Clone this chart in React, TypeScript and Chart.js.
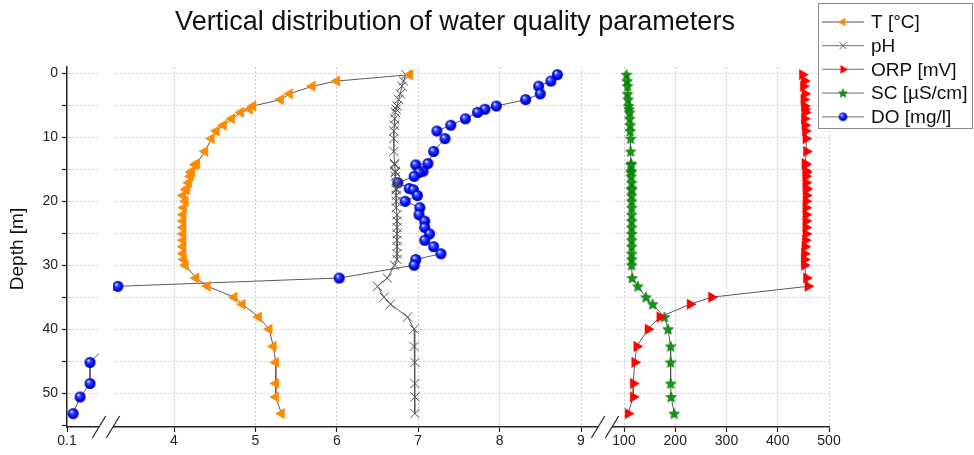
import React, { useEffect, useRef } from 'react';
import { Chart, registerables } from 'chart.js';
Chart.register(...registerables);

// ---------------- data ----------------
const depths = [0.2, 1.2, 2.0, 3.2, 4.1, 5.1, 5.6, 6.1, 7.1, 8.1, 9.0, 10.2, 12.2, 14.1, 14.3, 15.3, 15.5, 16.1, 17.1, 18.0, 18.2, 19.1, 20.0, 21.0, 22.1, 23.1, 24.1, 25.1, 26.1, 27.1, 28.2, 29.1, 30.0, 32.0, 33.3, 35.0, 36.1, 38.1, 40.0, 42.7, 45.2, 48.5, 50.6, 53.2];
const tempC = [6.90, 6.00, 5.70, 5.42, 5.31, 4.97, 4.93, 4.82, 4.71, 4.61, 4.52, 4.46, 4.38, 4.28, 4.26, 4.22, 4.21, 4.20, 4.18, 4.16, 4.15, 4.11, 4.14, 4.12, 4.11, 4.11, 4.11, 4.11, 4.11, 4.11, 4.11, 4.12, 4.14, 4.27, 4.41, 4.74, 4.84, 5.04, 5.17, 5.22, 5.25, 5.25, 5.25, 5.32];
const ph = [6.85, 6.82, 6.80, 6.78, 6.76, 6.74, 6.73, 6.72, 6.71, 6.71, 6.70, 6.70, 6.70, 6.71, 6.71, 6.72, 6.72, 6.72, 6.73, 6.73, 6.73, 6.73, 6.73, 6.73, 6.74, 6.74, 6.74, 6.74, 6.74, 6.74, 6.74, 6.74, 6.71, 6.62, 6.50, 6.58, 6.66, 6.87, 6.95, 6.95, 6.96, 6.96, 6.96, 6.96];
const orp = [448, 452, 450, 453, 451, 452, 453, 454, 452, 453, 454, 455, 456, 453, 454, 455, 455, 455, 455, 456, 455, 456, 455, 455, 455, 455, 455, 455, 454, 453, 452, 452, 452, 456, 459, 271, 229, 170, 147, 125, 121, 118, 118, 108];
const sc = [105, 106, 107, 107, 108, 109, 110, 111, 111, 112, 112, 113, 113, 114, 114, 114, 114, 114, 115, 115, 115, 115, 115, 115, 115, 115, 115, 115, 115, 115, 115, 115, 115, 116, 127, 143, 156, 179, 186, 191, 191, 191, 192, 198];
const doMg = [8.71, 8.63, 8.48, 8.50, 8.32, 7.96, 7.82, 7.73, 7.58, 7.40, 7.23, 7.33, 7.19, 7.12, 6.97, 7.06, 7.01, 6.95, 6.75, 6.89, 6.94, 6.99, 6.84, 7.02, 7.01, 7.08, 7.08, 7.14, 7.08, 7.19, 7.28, 6.97, 6.95, 6.03, 3.31, 1.8, 1.75, 1.7, 1.72, 1.8, 0.172, 0.172, 0.141, 0.119];

const xTickValues = [0.1, 4, 5, 6, 7, 8, 9, 100, 200, 300, 400, 500];
const xTickLabels = ['0.1', '4', '5', '6', '7', '8', '9', '100', '200', '300', '400', '500'];
const yTickValues = [0, 5, 10, 15, 20, 25, 30, 35, 40, 45, 50, 55];
const yTickLabels = ['0', '', '10', '', '20', '', '30', '', '40', '', '50', ''];

const seriesNames = ['T [°C]', 'pH', 'ORP [mV]', 'SC [µS/cm]', 'DO [mg/l]'];

// ---------------- broken axis transform ----------------
// three segments: [0.1, 0.2] | break | [3.25, 9.21] | break | [76.6, 500]
const LOW = [0.1, 0.2];
const MID = [3.25, 9.21];
const HIGH = [76.6, 500];
function toAxis(v: number): number {
  if (v <= LOW[1]) return 67 + (v - 0.1) * 320;
  if (v < MID[0]) return 99 + ((v - LOW[1]) / (MID[0] - LOW[1])) * 14;
  if (v <= MID[1]) return 174 + (v - 4) * 81.4;
  if (v < HIGH[0]) return 598 + ((v - MID[1]) / (HIGH[0] - MID[1])) * 14;
  return 624 + (v - 100) * 0.5125;
}
const breaks: [number, number][] = [
  [toAxis(LOW[1]), toAxis(MID[0])],
  [toAxis(MID[1]), toAxis(HIGH[0])],
];

const FONT = '"Liberation Sans", Arial, Helvetica, sans-serif';

function makeSphere(r: number): HTMLCanvasElement {
  const s = Math.ceil(r * 2 + 2);
  const c = document.createElement('canvas');
  c.width = s; c.height = s;
  const g = c.getContext('2d')!;
  const cx = s / 2, cy = s / 2;
  const grad = g.createRadialGradient(cx - r * 0.35, cy - r * 0.4, r * 0.05, cx, cy, r);
  grad.addColorStop(0, '#e8eeff');
  grad.addColorStop(0.3, '#3050ff');
  grad.addColorStop(0.75, '#0000ee');
  grad.addColorStop(1, '#0000a0');
  g.fillStyle = grad;
  g.beginPath(); g.arc(cx, cy, r, 0, Math.PI * 2); g.fill();
  return c;
}
function makeStar(R: number): HTMLCanvasElement {
  const s = Math.ceil(R * 2 + 2);
  const c = document.createElement('canvas');
  c.width = s; c.height = s;
  const g = c.getContext('2d')!;
  const cx = s / 2, cy = s / 2 + R * 0.08;
  g.beginPath();
  for (let i = 0; i < 10; i++) {
    const rr = i % 2 === 0 ? R : R * 0.45;
    const a = -Math.PI / 2 + (i * Math.PI) / 5;
    const x = cx + Math.cos(a) * rr, y = cy + Math.sin(a) * rr;
    if (i === 0) g.moveTo(x, y); else g.lineTo(x, y);
  }
  g.closePath();
  g.fillStyle = '#0a9a0a';
  g.fill();
  g.strokeStyle = '#056005';
  g.lineWidth = 0.6;
  g.stroke();
  return c;
}

function drawTri(ctx: CanvasRenderingContext2D, x: number, y: number, r: number, rot: number, color: string) {
  let rad = (rot * Math.PI) / 180;
  ctx.beginPath();
  for (let i = 0; i < 3; i++) {
    const px = x + Math.sin(rad) * r, py = y - Math.cos(rad) * r;
    if (i === 0) ctx.moveTo(px, py); else ctx.lineTo(px, py);
    rad += (2 * Math.PI) / 3;
  }
  ctx.closePath();
  ctx.fillStyle = color;
  ctx.fill();
}

export default function App() {
  const ref = useRef<HTMLCanvasElement>(null);
  useEffect(() => {
    if (!ref.current) return;
    const sphere = makeSphere(5.5);
    const star = makeStar(5.6);
    const sphereSmall = makeSphere(4.3);
    const starSmall = makeStar(4.6);
    const pts = (vals: number[]) => depths.map((d, i) => ({ x: toAxis(vals[i]), y: d }));
    const lineColor = '#5a5a5a';
    const base = { borderColor: lineColor, borderWidth: 1, tension: 0, showLine: true, fill: false };

    const decor = {
      id: 'decor',
      afterDatasetsDraw(chart: any) {
        const { ctx, chartArea, scales } = chart;
        const xs = scales.x;
        ctx.save();
        for (const [a, b] of breaks) {
          const x1 = xs.getPixelForValue(a), x2 = xs.getPixelForValue(b);
          ctx.fillStyle = '#ffffff';
          ctx.fillRect(x1, chartArea.top - 3, x2 - x1, chartArea.bottom - chartArea.top + 6);
          ctx.strokeStyle = '#222';
          ctx.lineWidth = 1.2;
          for (const cx of [x1, x2]) {
            ctx.beginPath();
            ctx.moveTo(cx - 6.7, chartArea.bottom + 11);
            ctx.lineTo(cx + 6.7, chartArea.bottom - 11);
            ctx.stroke();
          }
        }
        ctx.restore();
      },
      afterDraw(chart: any) {
        const { ctx, chartArea } = chart;
        ctx.save();
        // title
        ctx.fillStyle = '#111';
        ctx.font = `27px ${FONT}`;
        ctx.textAlign = 'center';
        ctx.textBaseline = 'middle';
        ctx.fillText('Vertical distribution of water quality parameters', 455, 23);
        // y title
        ctx.save();
        ctx.translate(18, (chartArea.top + chartArea.bottom) / 2 + 2);
        ctx.rotate(-Math.PI / 2);
        ctx.font = `19px ${FONT}`;
        ctx.fillText('Depth [m]', 0, 0);
        ctx.restore();
        // legend
        ctx.fillStyle = '#fff';
        ctx.fillRect(818.5, 3.5, 154, 125);
        ctx.strokeStyle = '#8a8a8a';
        ctx.lineWidth = 1;
        ctx.strokeRect(818.5, 3.5, 154, 125);
        ctx.font = `19px ${FONT}`;
        ctx.textAlign = 'left';
        seriesNames.forEach((name, i) => {
          const y = 22 + i * 23.7;
          ctx.strokeStyle = '#8c8c8c';
          ctx.lineWidth = 1.3;
          ctx.beginPath(); ctx.moveTo(822, y); ctx.lineTo(864, y); ctx.stroke();
          const mx = 843;
          if (i === 0) drawTri(ctx, mx, y, 5, -90, '#ff8a00');
          if (i === 1) {
            ctx.strokeStyle = '#666'; ctx.lineWidth = 1;
            ctx.beginPath(); ctx.moveTo(mx - 3.5, y - 3.5); ctx.lineTo(mx + 3.5, y + 3.5);
            ctx.moveTo(mx - 3.5, y + 3.5); ctx.lineTo(mx + 3.5, y - 3.5); ctx.stroke();
          }
          if (i === 2) drawTri(ctx, mx, y, 5, 90, '#ff0000');
          if (i === 3) ctx.drawImage(starSmall, mx - starSmall.width / 2, y - starSmall.height / 2);
          if (i === 4) ctx.drawImage(sphereSmall, mx - sphereSmall.width / 2, y - sphereSmall.height / 2);
          ctx.fillStyle = '#111';
          ctx.textBaseline = 'middle';
          ctx.fillText(name, 871, y + 1);
        });
        ctx.restore();
      },
    };

    const chart = new Chart(ref.current, {
      type: 'line',
      data: {
        datasets: [
          { ...base, label: seriesNames[0], data: pts(tempC), pointStyle: 'triangle', rotation: -90, pointRadius: 6, pointBackgroundColor: '#ff8a00', pointBorderColor: '#ff8a00', pointBorderWidth: 0.5 },
          { ...base, label: seriesNames[1], data: pts(ph), pointStyle: 'crossRot', pointRadius: 6.5, pointBorderColor: '#555', pointBorderWidth: 1 },
          { ...base, label: seriesNames[2], data: pts(orp), pointStyle: 'triangle', rotation: 90, pointRadius: 6, pointBackgroundColor: '#ff0000', pointBorderColor: '#ff0000', pointBorderWidth: 0.5 },
          { ...base, label: seriesNames[3], data: pts(sc), pointStyle: star as any, pointRadius: 5 },
          { ...base, label: seriesNames[4], data: pts(doMg), pointStyle: sphere as any, pointRadius: 5 },
        ] as any,
      },
      options: {
        animation: false,
        responsive: false,
        devicePixelRatio: 1,
        events: [],
        layout: { padding: { top: 67, right: 145, left: 0, bottom: 0 } },
        plugins: { legend: { display: false }, title: { display: false }, tooltip: { enabled: false } },
        scales: {
          x: {
            type: 'linear',
            min: toAxis(0.1),
            max: toAxis(500),
            afterBuildTicks: (s: any) => { s.ticks = xTickValues.map((v) => ({ value: toAxis(v) })); },
            afterFit: (s: any) => { s.height = 28; },
            ticks: {
              autoSkip: false, maxRotation: 0, padding: 1, color: '#222',
              font: { family: FONT, size: 14 },
              callback: (_v: any, i: number) => xTickLabels[i],
            },
            grid: {
              color: (c: any) => (c.index === 0 ? 'rgba(0,0,0,0)' : '#cfcfcf'),
              lineWidth: 1, tickLength: 5, tickColor: '#222', tickWidth: 1.2,
            },
            border: { display: true, color: '#222', width: 1.5, dash: [2, 2] },
          },
          y: {
            type: 'linear',
            reverse: true,
            min: -1,
            max: 55.3,
            afterBuildTicks: (s: any) => { s.ticks = yTickValues.map((v) => ({ value: v })); },
            afterFit: (s: any) => { s.width = 67; },
            ticks: {
              autoSkip: false, padding: 4, color: '#222',
              font: { family: FONT, size: 14 },
              callback: (_v: any, i: number) => yTickLabels[i],
            },
            grid: {
              color: (c: any) => (c.tick && c.tick.value === 55 ? 'rgba(0,0,0,0)' : '#cfcfcf'),
              lineWidth: 1, tickLength: 5, tickColor: '#222', tickWidth: 1.2,
            },
            border: { display: true, color: '#222', width: 1.5, dash: [2, 2] },
          },
        },
      } as any,
      plugins: [decor as any],
    });
    return () => chart.destroy();
  }, []);

  return (
    <div style={{ position: 'fixed', left: 0, top: 0, width: 974, height: 455, background: '#fff' }}>
      <canvas ref={ref} width={974} height={455} style={{ display: 'block' }} />
    </div>
  );
}
